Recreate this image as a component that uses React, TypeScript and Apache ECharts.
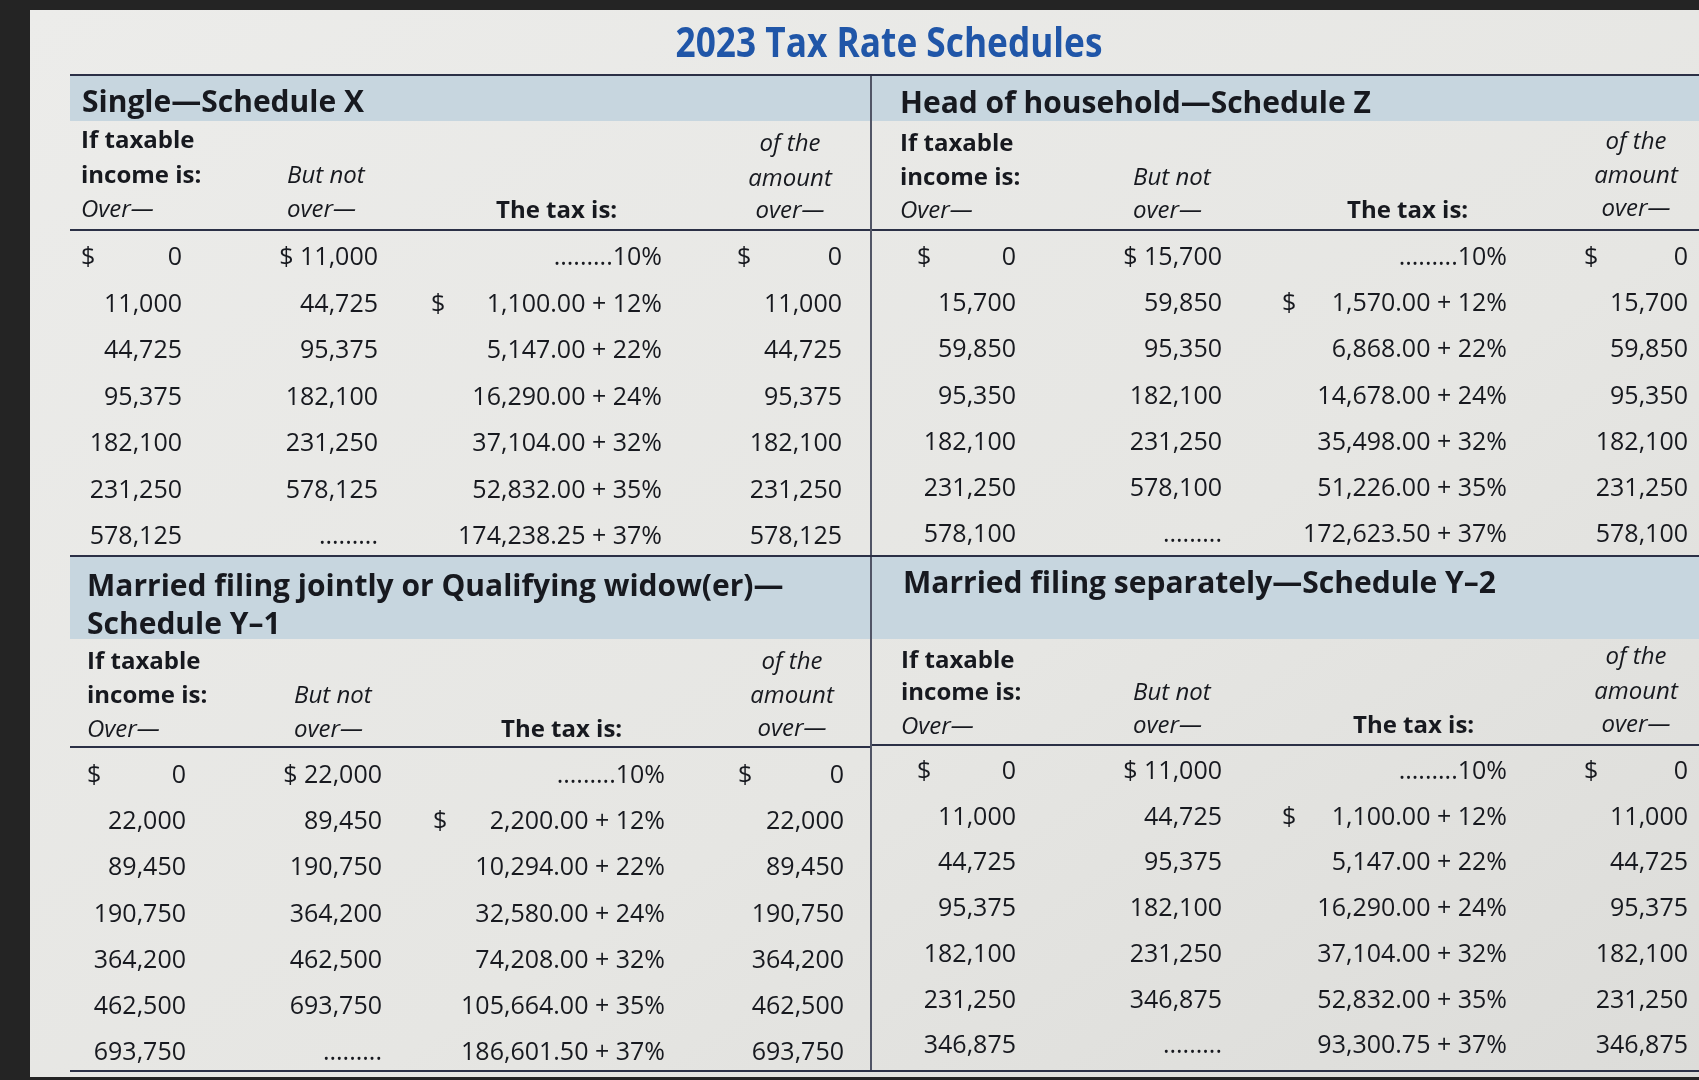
import React, { useEffect, useRef } from "react";
import * as echarts from "echarts";

// ---------- data ----------
const chartTitle = "2023 Tax Rate Schedules";
const rates = [10, 12, 22, 24, 32, 35, 37];

const singleTitle = ["Single—Schedule X"];
const singleOver = [0, 11000, 44725, 95375, 182100, 231250, 578125];
const singleNotOver = [11000, 44725, 95375, 182100, 231250, 578125, null];
const singleBase = [0, 1100, 5147, 16290, 37104, 52832, 174238.25];

const hohTitle = ["Head of household—Schedule Z"];
const hohOver = [0, 15700, 59850, 95350, 182100, 231250, 578100];
const hohNotOver = [15700, 59850, 95350, 182100, 231250, 578100, null];
const hohBase = [0, 1570, 6868, 14678, 35498, 51226, 172623.5];

const mfjTitle = ["Married filing jointly or Qualifying widow(er)—", "Schedule Y–1"];
const mfjOver = [0, 22000, 89450, 190750, 364200, 462500, 693750];
const mfjNotOver = [22000, 89450, 190750, 364200, 462500, 693750, null];
const mfjBase = [0, 2200, 10294, 32580, 74208, 105664, 186601.5];

const mfsTitle = ["Married filing separately—Schedule Y–2"];
const mfsOver = [0, 11000, 44725, 95375, 182100, 231250, 346875];
const mfsNotOver = [11000, 44725, 95375, 182100, 231250, 346875, null];
const mfsBase = [0, 1100, 5147, 16290, 37104, 52832, 93300.75];

const headerCol1 = ["If taxable", "income is:", "Over—"];
const headerCol2 = ["But not", "over—"];
const headerCol3 = "The tax is:";
const headerCol4 = ["of the", "amount", "over—"];
const dotLeader = ".........";

// ---------- styles ----------
const FONT = '"Open Sans", "Noto Sans", sans-serif';
const INK = "#17191f";
const LINE = "#2b3046";
const BAND = "#c7d6df";
const TITLE_BLUE = "#2056a8";
const DATA_SIZE = 25;
const HDR_SIZE = 24;

const fmtInt = (n: number) => n.toLocaleString("en-US");
const fmtBase = (n: number) =>
  n.toLocaleString("en-US", { minimumFractionDigits: 2, maximumFractionDigits: 2 });

function txt(
  x: number,
  y: number,
  text: string,
  o: { size?: number; weight?: string; style?: string; align?: string; fill?: string; scaleX?: number } = {}
) {
  return {
    type: "text",
    x,
    y,
    scaleX: o.scaleX ?? 1,
    silent: true,
    style: {
      x: 0,
      y: 0,
      text,
      fill: o.fill ?? INK,
      fontFamily: FONT,
      fontSize: o.size ?? DATA_SIZE,
      fontWeight: o.weight ?? "500",
      fontStyle: o.style ?? "normal",
      align: o.align ?? "left",
      verticalAlign: "middle",
    },
  };
}

function hline(x1: number, x2: number, y: number, w = 2) {
  return { type: "line", silent: true, shape: { x1, y1: y, x2, y2: y }, style: { stroke: LINE, lineWidth: w } };
}

const quads = [
  {
    title: singleTitle, over: singleOver, notOver: singleNotOver, base: singleBase,
    x0: 70, x1: 870, bandTop: 75, bandBot: 121, titleX: 82, titleY: [100],
    hdrX: 81, hdrY: [138, 173, 207], butX: 287, butY: [173, 207], taxX: 496, taxY: 208,
    ofX: 790, ofY: [141, 176, 208], hdrLine: 230, rowY0: 255, step: 46.5,
    c: { d1: 81, r1: 182, r2: 378, d3: 431, r3: 662, d4: 737, r4: 842 },
  },
  {
    title: hohTitle, over: hohOver, notOver: hohNotOver, base: hohBase,
    x0: 872, x1: 1699, bandTop: 75, bandBot: 121, titleX: 900, titleY: [101],
    hdrX: 900, hdrY: [141, 175, 208], butX: 1133, butY: [175, 208], taxX: 1347, taxY: 208,
    ofX: 1636, ofY: [139, 173, 206], hdrLine: 230, rowY0: 255, step: 46.2,
    c: { d1: 917, r1: 1016, r2: 1222, d3: 1282, r3: 1507, d4: 1584, r4: 1688 },
  },
  {
    title: mfjTitle, over: mfjOver, notOver: mfjNotOver, base: mfjBase,
    x0: 70, x1: 870, bandTop: 556, bandBot: 639, titleX: 87, titleY: [584, 622],
    hdrX: 87, hdrY: [659, 693, 727], butX: 294, butY: [693, 727], taxX: 501, taxY: 727,
    ofX: 792, ofY: [659, 693, 726], hdrLine: 747, rowY0: 773, step: 46.2,
    c: { d1: 87, r1: 186, r2: 382, d3: 433, r3: 665, d4: 738, r4: 844 },
  },
  {
    title: mfsTitle, over: mfsOver, notOver: mfsNotOver, base: mfsBase,
    x0: 872, x1: 1699, bandTop: 556, bandBot: 639, titleX: 903, titleY: [581],
    hdrX: 901, hdrY: [658, 690, 724], butX: 1133, butY: [690, 723], taxX: 1353, taxY: 723,
    ofX: 1636, ofY: [654, 689, 722], hdrLine: 745, rowY0: 769, step: 45.7,
    c: { d1: 917, r1: 1016, r2: 1222, d3: 1282, r3: 1507, d4: 1584, r4: 1688 },
  },
];

function buildElements() {
  const els: any[] = [];
  // photo frame / page
  els.push({ type: "rect", silent: true, shape: { x: 0, y: 0, width: 1699, height: 1080 }, style: { fill: "#242424" } });
  els.push({
    type: "rect",
    silent: true,
    shape: { x: 30, y: 10, width: 1669, height: 1067 },
    style: {
      fill: new echarts.graphic.LinearGradient(0, 0, 1, 1, [
        { offset: 0, color: "#ececea" },
        { offset: 0.6, color: "#e6e6e3" },
        { offset: 1, color: "#dcdcd9" },
      ]),
    },
  });
  // title
  els.push(txt(889, 41, chartTitle, { size: 41, weight: "bold", align: "center", fill: TITLE_BLUE, scaleX: 0.86 }));

  quads.forEach((q) => {
    els.push({
      type: "rect",
      silent: true,
      shape: { x: q.x0, y: q.bandTop, width: q.x1 - q.x0, height: q.bandBot - q.bandTop },
      style: { fill: BAND },
    });
    q.title.forEach((t, i) => els.push(txt(q.titleX, q.titleY[i], t, { size: 30, weight: "bold" })));
    // headers
    headerCol1.forEach((t, i) =>
      els.push(txt(q.hdrX, q.hdrY[i], t, { size: HDR_SIZE, weight: i < 2 ? "bold" : "normal", style: i < 2 ? "normal" : "italic" }))
    );
    headerCol2.forEach((t, i) => els.push(txt(q.butX, q.butY[i], t, { size: HDR_SIZE, weight: "normal", style: "italic" })));
    els.push(txt(q.taxX, q.taxY, headerCol3, { size: HDR_SIZE, weight: "bold" }));
    headerCol4.forEach((t, i) =>
      els.push(txt(q.ofX, q.ofY[i], t, { size: HDR_SIZE, weight: "normal", style: "italic", align: "center" }))
    );
    els.push(hline(q.x0, q.x1, q.hdrLine, 2));
    // rows
    const c = q.c;
    q.over.forEach((ov, i) => {
      const y = q.rowY0 + i * q.step;
      const no = q.notOver[i];
      const rate = rates[i];
      if (i === 0) {
        els.push(txt(c.d1, y, "$"));
        els.push(txt(c.r1, y, fmtInt(ov), { align: "right" }));
        els.push(txt(c.r2, y, "$ " + fmtInt(no as number), { align: "right" }));
        els.push(txt(c.r3, y, dotLeader + rate + "%", { align: "right" }));
        els.push(txt(c.d4, y, "$"));
        els.push(txt(c.r4, y, fmtInt(ov), { align: "right" }));
      } else {
        els.push(txt(c.r1, y, fmtInt(ov), { align: "right" }));
        els.push(txt(c.r2, y, no == null ? dotLeader : fmtInt(no), { align: "right" }));
        if (i === 1) els.push(txt(c.d3, y, "$"));
        els.push(txt(c.r3, y, fmtBase(q.base[i]) + " + " + rate + "%", { align: "right" }));
        els.push(txt(c.r4, y, fmtInt(ov), { align: "right" }));
      }
    });
  });

  // rules
  els.push(hline(70, 1699, 75, 2));
  els.push(hline(70, 1699, 556, 2));
  els.push(hline(70, 1699, 1071, 2));
  els.push({ type: "line", silent: true, shape: { x1: 871, y1: 75, x2: 871, y2: 1071 }, style: { stroke: LINE, lineWidth: 1.6 } });
  return els;
}

export default function App() {
  const ref = useRef<HTMLDivElement>(null);
  useEffect(() => {
    if (!ref.current) return;
    const chart = echarts.init(ref.current, null, { renderer: "svg" });
    chart.setOption({
      animation: false,
      graphic: { elements: buildElements() },
    });
    return () => chart.dispose();
  }, []);
  return (
    <div
      ref={ref}
      style={{ position: "fixed", left: 0, top: 0, width: 1699, height: 1080 }}
    />
  );
}
